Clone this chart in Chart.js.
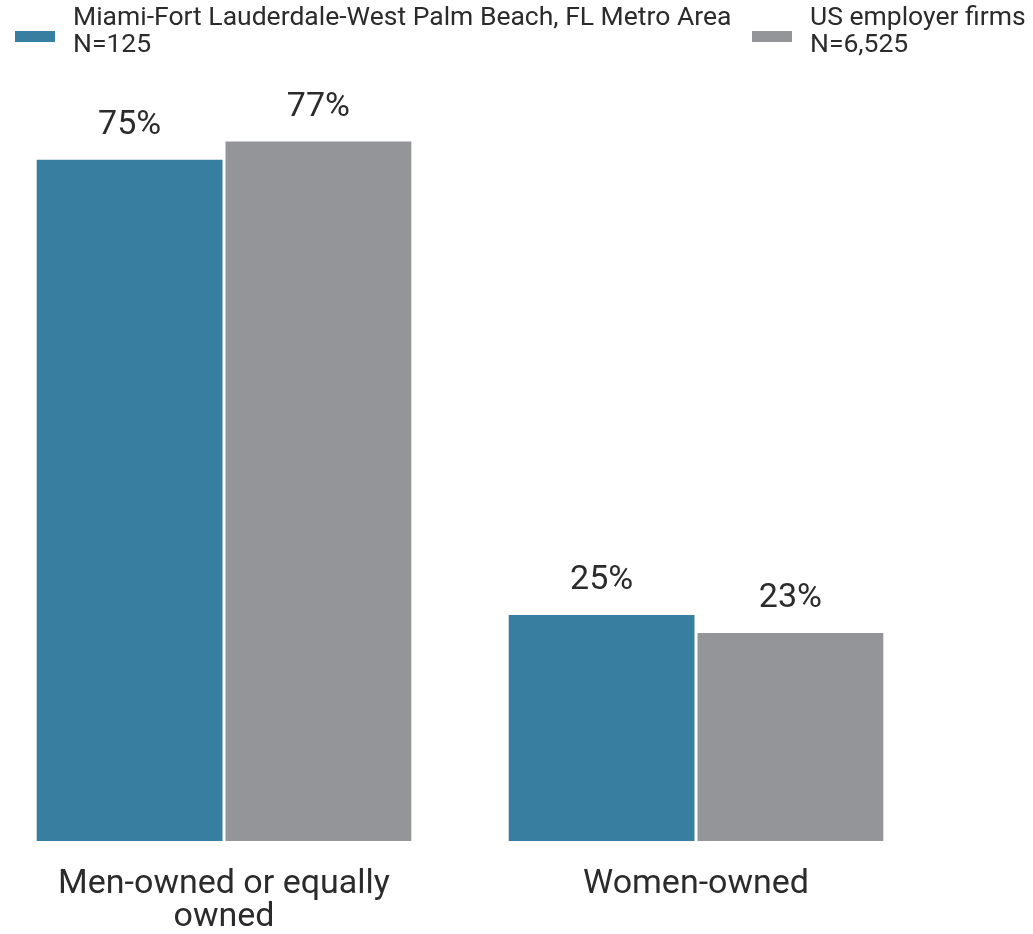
<!DOCTYPE html>
<html>
<head>
<meta charset="utf-8">
<script src="https://cdn.jsdelivr.net/npm/chart.js@4"></script>
<style>
  body { margin: 0; background: #fff; overflow: hidden; }
  #wrap { position: absolute; left: -12px; top: 0; width: 1057px; height: 934px; }
</style>
</head>
<body>
<div id="wrap"><canvas id="ownerChart" width="1057" height="934"></canvas></div>
<script>
// chart data
const categories = [['Men-owned or equally', 'owned'], 'Women-owned'];
const seriesNames = ['Miami-Fort Lauderdale-West Palm Beach, FL Metro Area', 'US employer firms'];
const seriesN = ['N=125', 'N=6,525'];
const metroValues = [75, 25];
const usValues = [77, 23];
const colors = ['#387ea0', '#939598'];

const shift = 12; // canvas sits 12px left of the page edge

// percent labels above bars
const valueLabels = {
  id: 'valueLabels',
  afterDatasetsDraw(chart) {
    const ctx = chart.ctx;
    ctx.save();
    ctx.font = '34px Roboto';
    ctx.fillStyle = '#2b2b2b';
    ctx.textAlign = 'center';
    ctx.textBaseline = 'middle';
    chart.data.datasets.forEach((ds, i) => {
      chart.getDatasetMeta(i).data.forEach((bar, j) => {
        ctx.fillText(ds.data[j] + '%', bar.x, bar.y - 33);
      });
    });
    ctx.restore();
  }
};

// two-line legend at the top
const topLegend = {
  id: 'topLegend',
  afterDraw(chart) {
    const ctx = chart.ctx;
    const xs = [15, 752];
    ctx.save();
    ctx.font = '26.5px Roboto';
    ctx.textBaseline = 'middle';
    ctx.textAlign = 'left';
    seriesNames.forEach((name, i) => {
      ctx.fillStyle = colors[i];
      ctx.fillRect(xs[i] + shift, 31, 40, 11);
      ctx.fillStyle = '#2b2b2b';
      ctx.fillText(name, xs[i] + shift + 58, 18);
      ctx.fillText(seriesN[i], xs[i] + shift + 58, 45);
    });
    ctx.restore();
  }
};

const ctx = document.getElementById('ownerChart').getContext('2d');
new Chart(ctx, {
  type: 'bar',
  data: {
    labels: categories,
    datasets: [
      { label: seriesNames[0], data: metroValues, backgroundColor: colors[0] },
      { label: seriesNames[1], data: usValues, backgroundColor: colors[1] }
    ]
  },
  options: {
    responsive: false,
    animation: false,
    datasets: {
      bar: {
        categoryPercentage: 0.8,
        barPercentage: 1,
        borderColor: '#fff',
        borderWidth: 1.5
      }
    },
    layout: { padding: { top: 140, right: 113, left: 0, bottom: 0 } },
    plugins: {
      legend: { display: false },
      tooltip: { enabled: false }
    },
    scales: {
      y: { display: false, min: 0, max: 77 },
      x: {
        border: { display: false },
        grid: { display: false, drawTicks: false },
        ticks: {
          color: '#2b2b2b',
          font: { family: 'Roboto', size: 34, lineHeight: 0.97 },
          padding: 27,
          maxRotation: 0,
          autoSkip: false
        },
        afterFit(scale) { scale.height = 93; }
      }
    }
  },
  plugins: [valueLabels, topLegend]
});
</script>
</body>
</html>
